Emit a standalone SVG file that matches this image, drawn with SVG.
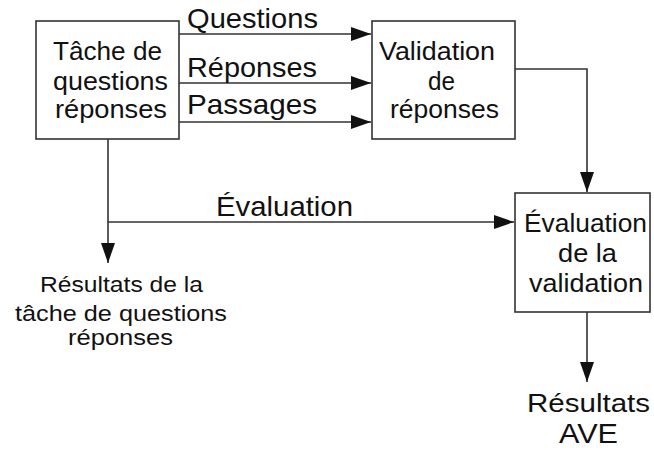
<svg xmlns="http://www.w3.org/2000/svg" width="654" height="450" viewBox="0 0 654 450">
<defs>
<style>
.box{fill:#fff;stroke:#333;stroke-width:1.6}
.ln{fill:none;stroke:#333;stroke-width:1.6}
text{font-family:"Liberation Sans",Arial,sans-serif;fill:#111;text-anchor:start}
.b{font-size:25px}
.l{font-size:28px}
.s{font-size:22px}
</style>
<marker id="ah" markerUnits="userSpaceOnUse" markerWidth="22" markerHeight="16" refX="20" refY="7" orient="auto">
<path d="M0,0 L20,7 L0,14 Z" fill="#111"/>
</marker>
</defs>
<rect width="654" height="450" fill="#fff"/>
<g id="connectors">
<line class="ln" x1="179" y1="34" x2="371" y2="34" marker-end="url(#ah)"/>
<line class="ln" x1="179" y1="83" x2="371" y2="83" marker-end="url(#ah)"/>
<line class="ln" x1="179" y1="122" x2="371" y2="122" marker-end="url(#ah)"/>
<polyline class="ln" points="515,69 587,69 587,192" marker-end="url(#ah)"/>
<line class="ln" x1="108" y1="139" x2="108" y2="263" marker-end="url(#ah)"/>
<line class="ln" x1="108" y1="222" x2="514" y2="222" marker-end="url(#ah)"/>
<line class="ln" x1="587" y1="312" x2="587" y2="382" marker-end="url(#ah)"/>
<text class="l" x="187" y="28" textLength="131" lengthAdjust="spacingAndGlyphs">Questions</text>
<text class="l" x="187" y="77" textLength="130" lengthAdjust="spacingAndGlyphs">Réponses</text>
<text class="l" x="187" y="114" textLength="130" lengthAdjust="spacingAndGlyphs">Passages</text>
<text class="l" x="216" y="216" textLength="137" lengthAdjust="spacingAndGlyphs">Évaluation</text>
</g>
<g id="tache">
<rect class="box" x="36" y="21" width="143" height="118"/>
<text class="b" x="53" y="60" textLength="109" lengthAdjust="spacingAndGlyphs">Tâche de</text>
<text class="b" x="53" y="90" textLength="115" lengthAdjust="spacingAndGlyphs">questions</text>
<text class="b" x="55" y="118" textLength="112" lengthAdjust="spacingAndGlyphs">réponses</text>
</g>
<g id="validation">
<rect class="box" x="372" y="21" width="143" height="118"/>
<text class="b" x="379" y="60" textLength="116" lengthAdjust="spacingAndGlyphs">Validation</text>
<text class="b" x="428" y="90" textLength="27" lengthAdjust="spacingAndGlyphs">de</text>
<text class="b" x="390" y="118" textLength="109" lengthAdjust="spacingAndGlyphs">réponses</text>
</g>
<g id="evaluation">
<rect class="box" x="515" y="193" width="135" height="119"/>
<text class="b" x="524" y="232" textLength="123" lengthAdjust="spacingAndGlyphs">Évaluation</text>
<text class="b" x="558" y="262" textLength="59" lengthAdjust="spacingAndGlyphs">de la</text>
<text class="b" x="529" y="292" textLength="114" lengthAdjust="spacingAndGlyphs">validation</text>
</g>
<g id="resultats-tache">
<text class="s" x="40" y="292" textLength="163" lengthAdjust="spacingAndGlyphs">Résultats de la</text>
<text class="s" x="15" y="321" textLength="212" lengthAdjust="spacingAndGlyphs">tâche de questions</text>
<text class="s" x="68" y="345" textLength="105" lengthAdjust="spacingAndGlyphs">réponses</text>
</g>
<g id="resultats-ave">
<text class="b" x="527" y="412" textLength="123" lengthAdjust="spacingAndGlyphs" style="font-size:26px">Résultats</text>
<text class="b" x="559" y="443" textLength="59" lengthAdjust="spacingAndGlyphs" style="font-size:27px">AVE</text>
</g>
</svg>
